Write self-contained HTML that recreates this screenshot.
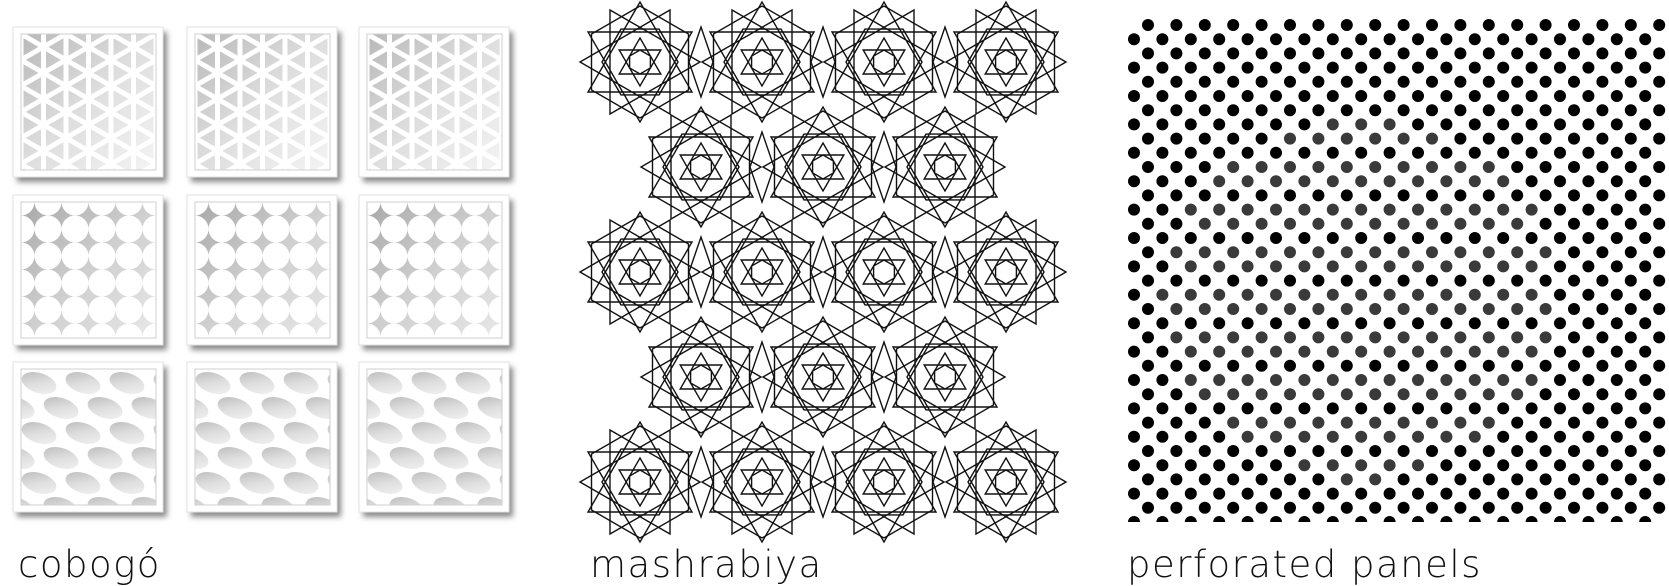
<!DOCTYPE html>
<html><head><meta charset="utf-8"><style>
html,body{margin:0;padding:0;background:#fff;width:1669px;height:584px;overflow:hidden}
svg{position:absolute;left:0;top:0}
.lbl{position:absolute;font-family:"DejaVu Sans","Liberation Sans",sans-serif;font-weight:200;font-size:37px;color:#111;line-height:1;letter-spacing:1.5px}
</style></head><body>
<svg id="s" width="1669" height="584" viewBox="0 0 1669 584" xmlns="http://www.w3.org/2000/svg">
<defs>
<filter id="sh" x="-20%" y="-20%" width="150%" height="150%"><feGaussianBlur stdDeviation="3"/></filter>
<linearGradient id="og" x1="0" y1="0" x2="1" y2="1"><stop offset="0" stop-color="#b8b8b8"/><stop offset="0.5" stop-color="#dedede"/><stop offset="1" stop-color="#f4f4f4"/></linearGradient>
<linearGradient id="og2" x1="0" y1="0" x2="1" y2="1"><stop offset="0" stop-color="#a8a8a8"/><stop offset="0.5" stop-color="#cfcfcf"/><stop offset="1" stop-color="#e8e8e8"/></linearGradient>
</defs>
<g id="cob"></g>
<g id="mash" fill="none" stroke="#111" stroke-width="1.4"></g>
<g id="perf"></g>
</svg>
<div class="lbl" style="left:18px;top:546px">cobogó</div>
<div class="lbl" style="left:590px;top:546px">mashrabiya</div>
<div class="lbl" style="left:1127px;top:546px">perforated panels</div>
<script>
const NS='http://www.w3.org/2000/svg';
function mk(tag,attrs,parent){const e=document.createElementNS(NS,tag);for(const k in attrs)e.setAttribute(k,attrs[k]);parent.appendChild(e);return e;}
const tileCols=[13,187,359];
const tileRows=[27,195,362];
const TS=150;
const cob=document.getElementById('cob');
tileRows.forEach((ty,ri)=>{tileCols.forEach((tx,ci)=>{
  const g=mk('g',{},cob);
  
  
  mk('rect',{x:tx+4,y:ty+5,width:TS,height:TS,fill:'#8a8a8a',filter:'url(#sh)'},g);
  mk('rect',{x:tx,y:ty,width:TS,height:TS,fill:'#fff',stroke:'#e2e2e2','stroke-width':1},g);
  const ix=tx+8,iy=ty+7,iw=TS-15,ih=TS-14;
  const cid='c'+ri+ci;
  const cp=mk('clipPath',{id:cid},g);mk('rect',{x:ix,y:iy,width:iw,height:ih},cp);
  const inner=mk('g',{'clip-path':'url(#'+cid+')'},g);
  if(ri===0){
    mk('rect',{x:ix,y:iy,width:iw,height:ih,fill:'url(#og)'},inner);
    for(let k=0;k<=6;k++)mk('line',{x1:ix+k*iw/6,y1:iy,x2:ix+k*iw/6,y2:iy+ih,stroke:'#fff','stroke-width':5},inner);
    for(let k=-4;k<=8;k++){
      const y0=iy+k*26;
      mk('line',{x1:ix,y1:y0,x2:ix+iw,y2:y0+iw*0.577,stroke:'#fff','stroke-width':5},inner);
      mk('line',{x1:ix,y1:y0+iw*0.577,x2:ix+iw,y2:y0,stroke:'#fff','stroke-width':5},inner);
    }
  }else if(ri===1){
    mk('rect',{x:ix,y:iy,width:iw,height:ih,fill:'url(#og2)'},inner);
    const s=iw/5;
    for(let a=0;a<=5;a++)for(let b=0;b<=5;b++){
      mk('circle',{cx:ix+a*s,cy:iy+b*s,r:s*0.5,fill:'#fff'},inner);
    }
  }else{
    mk('rect',{x:ix,y:iy,width:iw,height:ih,fill:'#fff'},inner);
    for(let r=0;r<6;r++)for(let c=-1;c<4;c++){
      const cx=ix+18+c*44+(r%2)*22, cy=iy+14+r*25;
      mk('ellipse',{cx:cx,cy:cy,rx:18,ry:10,fill:'url(#og)',transform:'rotate(18 '+cx+' '+cy+')'},inner);
    }
  }
  mk('rect',{x:ix,y:iy,width:iw,height:ih,fill:'none',stroke:'#cfcfcf','stroke-width':1},g);
});});
const hexRowsY=[62,167,272,377,482];
const hexColsA=[640,762,884,1006];
const hexColsB=[701,823,945];
const mash=document.getElementById('mash');
function poly(cx,cy,r,n,step,rot){
  const used=new Set();let d='';
  for(let start=0;start<n;start++){
    if(used.has(start))continue;
    let k=start;d+='M';
    do{used.add(k);const a=rot+k*2*Math.PI/n;d+=(cx+r*Math.cos(a)).toFixed(1)+','+(cy+r*Math.sin(a)).toFixed(1)+' L';k=(k+step)%n;}while(k!==start);
    d=d.slice(0,-2)+'Z ';
  }
  return d;
}
hexRowsY.forEach((cy,ri)=>{(ri%2===0?hexColsA:hexColsB).forEach(cx=>{
  const g=mk('g',{},mash);
  
  
  mk('path',{d:poly(cx,cy,56,6,1,-Math.PI/2)},g);
  mk('path',{d:poly(cx,cy,60,12,4,0)},g);
  mk('path',{d:poly(cx,cy,38,6,1,0)},g);
  mk('path',{d:poly(cx,cy,24,6,2,-Math.PI/2)},g);
  mk('path',{d:poly(cx,cy,12,6,1,-Math.PI/2)},g);
});});
hexRowsY.forEach((cy,ri)=>{const cols=ri%2===0?hexColsA:hexColsB;for(let i=0;i<cols.length-1;i++){
  const mx=(cols[i]+cols[i+1])/2;
  const d=mk('path',{d:'M'+mx+','+(cy-35)+' L'+(mx+12)+','+cy+' L'+mx+','+(cy+35)+' L'+(mx-12)+','+cy+'Z'},mash);
  
  
}});
const perf=document.getElementById('perf');
const PX0=1127,PY0=16,PW=539,PH=506;
const cpp=mk('clipPath',{id:'pc'},perf);mk('rect',{x:PX0,y:PY0,width:PW,height:PH},cpp);
const pg=mk('g',{'clip-path':'url(#pc)'},perf);
mk('rect',{x:PX0,y:PY0,width:PW,height:PH,fill:'#fff'},pg);
const pitch=28.4,rowH=14.2;
for(let r=0;r<37;r++){
  const y=PY0+9+r*rowH;
  const x0=(r%2===0)?PX0+21:PX0+7;
  for(let k=-1;k<20;k++){
    const x=x0+k*pitch;
    const dx=x-1360,dy=y-300;
    const grey=(dx*dx/(200*200)+dy*dy/(180*180))<1 && ((r*7+k*3)%3!==0);
    const c=mk('circle',{cx:x.toFixed(1),cy:y.toFixed(1),r:6,fill:grey?'#3a3a3a':'#000'},pg);
    
    
  }
}
</script>
</body></html>
